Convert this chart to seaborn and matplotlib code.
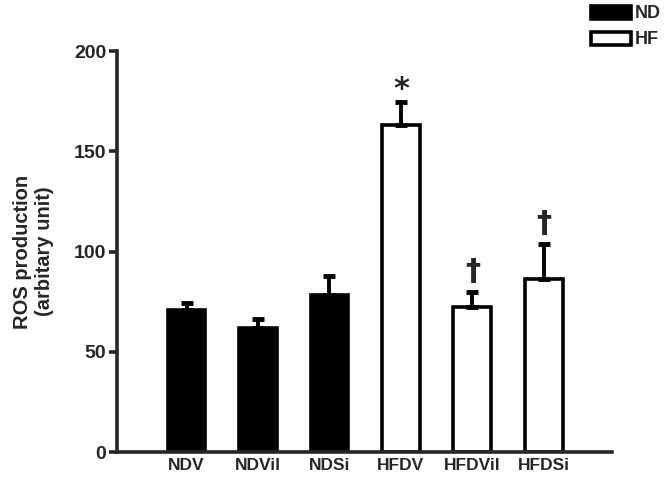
import numpy as np
import pandas as pd
import seaborn as sns
import matplotlib.pyplot as plt
from matplotlib.patches import Patch

groups = ['NDV', 'NDVil', 'NDSi', 'HFDV', 'HFDVil', 'HFDSi']
diet = ['ND', 'ND', 'ND', 'HF', 'HF', 'HF']
ros = [71, 62, 78.5, 163, 72.5, 86.5]
sem = [3.5, 4.5, 9.5, 11.5, 7.5, 17.5]
marks = ['', '', '', '*', '\u2020', '\u2020']

df = pd.DataFrame({'group': groups, 'diet': diet, 'ros': ros, 'sem': sem})

sns.set_style('ticks')
plt.rcParams['font.family'] = ['Liberation Sans', 'DejaVu Sans']
plt.rcParams['font.weight'] = 'bold'

fig = plt.figure(figsize=(6.7, 4.78), dpi=100)
ax = fig.add_axes([0.175, 0.054, 0.738, 0.839])

sns.barplot(data=df, x='group', y='ros', hue='diet', dodge=False,
            palette={'ND': 'black', 'HF': 'white'}, width=0.53, saturation=1,
            edgecolor='black', linewidth=2.6, legend=False, ax=ax)

x = np.arange(len(groups))
ax.errorbar(x, df['ros'], yerr=[np.zeros(len(sem)), df['sem']], fmt='none',
            ecolor='black', elinewidth=2.8, capsize=4.5, capthick=3.5, zorder=1)

# significance marks above the error bars
for xi, (m, s, t) in enumerate(zip(ros, sem, marks)):
    if t == '*':
        ax.text(xi, m + s - 1, t, ha='center', va='bottom', fontsize=22,
                fontweight='bold', family='DejaVu Sans')
    elif t:
        ax.text(xi, m + s + 3, t, ha='center', va='bottom', fontsize=22,
                fontweight='bold', family='DejaVu Sans')

ax.set_ylim(0, 200)
ax.set_xlim(-0.97, 5.95)
ax.set_yticks([0, 50, 100, 150, 200])
ax.set_xlabel('')
ax.set_ylabel('ROS production\n(arbitary unit)', fontsize=14.5, fontweight='bold', labelpad=14)
ax.tick_params(axis='y', width=2.6, length=6, labelsize=14, pad=2)
ax.tick_params(axis='x', length=0, labelsize=12.5, pad=4)
for lab in ax.get_xticklabels() + ax.get_yticklabels():
    lab.set_fontweight('bold')
sns.despine(ax=ax)
for sp in ['left', 'bottom']:
    ax.spines[sp].set_linewidth(2.6)

handles = [Patch(facecolor='black', edgecolor='black', linewidth=2.6, label='ND'),
           Patch(facecolor='white', edgecolor='black', linewidth=2.6, label='HF')]
fig.legend(handles=handles, loc='upper right', bbox_to_anchor=(1.005, 1.015), frameon=False,
           prop={'weight': 'bold', 'size': 13}, handlelength=2.2, handleheight=0.75,
           handletextpad=0.2, labelspacing=0.5, borderpad=0.2)

fig.savefig('out.png', dpi=100)
